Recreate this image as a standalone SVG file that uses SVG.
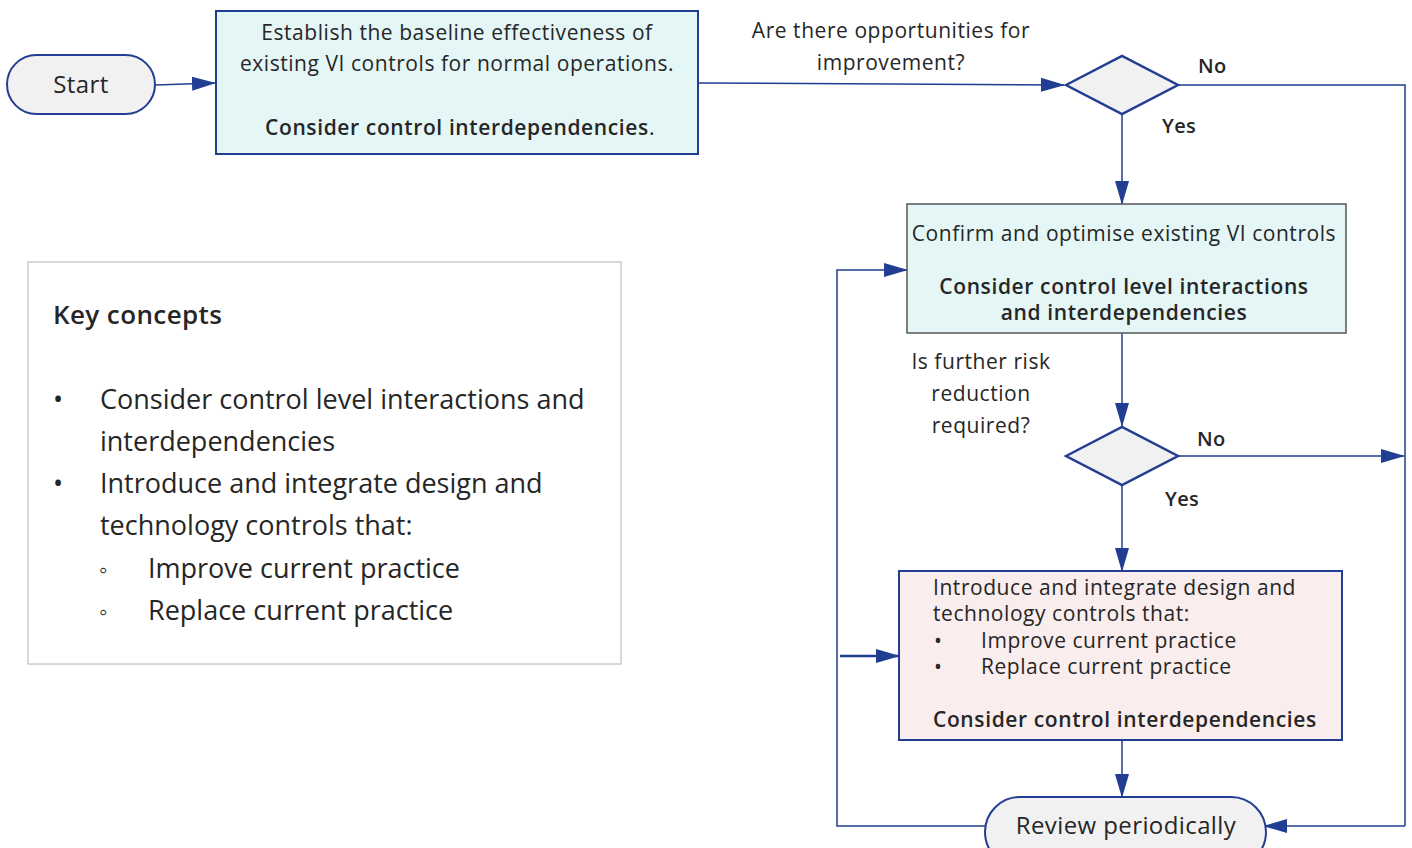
<svg xmlns="http://www.w3.org/2000/svg" width="1412" height="848" viewBox="0 0 1412 848">
<defs>
<marker id="arrL" markerWidth="24" markerHeight="16" refX="23" refY="8" orient="auto" markerUnits="userSpaceOnUse" viewBox="0 0 24 16">
<path d="M0,1 L24,8 L0,15 Z" fill="#213e92"/>
</marker>
</defs>
<style>
text{font-family:"Open Sans","Noto Sans","Liberation Sans",sans-serif;fill:#262626;}
.t20{font-size:21px;letter-spacing:0.55px;}
.b{font-weight:600;letter-spacing:0.62px;}
.c{text-anchor:middle;}
.term{fill:#f1f1f1;stroke:#213e92;stroke-width:2;}
.dia{fill:#f1f1f1;stroke:#213e92;stroke-width:2.5;}
.con{fill:none;stroke:#213e92;stroke-width:1.5;marker-end:url(#arrL);}
.plain{fill:none;stroke:#213e92;stroke-width:1.5;}
.lbl{font-size:20px;font-weight:600;letter-spacing:0.3px;}
.k{font-size:27px;}
</style>
<rect width="1412" height="848" fill="#ffffff"/>

<g id="connectors">
<path class="con" d="M155,85 L215,83"/>
<path class="con" d="M698,83 L1064,85"/>
<path class="plain" d="M1178,85 L1405,85 L1405,826"/>
<path class="con" d="M1405,826 L1264,826"/>
<path class="con" d="M1122,114 L1122,204"/>
<path class="con" d="M1122,333 L1122,426"/>
<path class="con" d="M1178,456 L1404,456"/>
<path class="con" d="M1122,485 L1122,571"/>
<path class="con" d="M1122,740 L1122,797"/>
<path class="con" d="M985,826 L837,826 L837,270 L907,270"/>
<path class="con" style="stroke-width:2.5" d="M840,656 L899,656"/>
</g>

<g id="labels">
<text class="t20 c" x="891" y="38">Are there opportunities for</text>
<text class="t20 c" x="891" y="70">improvement?</text>
<text class="lbl" x="1198" y="73">No</text>
<text class="lbl" x="1162" y="133">Yes</text>
<text class="t20 c" x="981" y="369">Is further risk</text>
<text class="t20 c" x="981" y="401">reduction</text>
<text class="t20 c" x="981" y="433">required?</text>
<text class="lbl" x="1197" y="446">No</text>
<text class="lbl" x="1165" y="506">Yes</text>
</g>

<g id="start">
<rect class="term" x="7" y="55" width="148" height="59" rx="29.5"/>
<text class="c" x="81" y="93" style="font-size:24px;letter-spacing:0.4px">Start</text>
</g>

<g id="baseline">
<rect x="216" y="11" width="482" height="143" fill="#e4f6f6" stroke="#213e92" stroke-width="2"/>
<text class="t20 c" x="457" y="40">Establish the baseline effectiveness of</text>
<text class="t20 c" x="457" y="71">existing VI controls for normal operations.</text>
<text class="t20 c" x="460" y="135"><tspan class="b">Consider control interdependencies</tspan>.</text>
</g>

<g id="decision1">
<polygon class="dia" points="1066,85 1122,56 1178,85 1122,114"/>
</g>

<g id="confirm">
<rect x="907" y="204" width="439" height="129" fill="#e4f6f6" stroke="#555555" stroke-width="1.5"/>
<text class="t20 c" x="1124" y="241">Confirm and optimise existing VI controls</text>
<text class="t20 c b" x="1124" y="294">Consider control level interactions</text>
<text class="t20 c b" x="1124" y="320">and interdependencies</text>
</g>

<g id="decision2">
<polygon class="dia" points="1066,456 1122,427 1178,456 1122,485"/>
</g>

<g id="introduce">
<rect x="899" y="571" width="443" height="169" fill="#f9eded" stroke="#213e92" stroke-width="2"/>
<text class="t20" x="933" y="595">Introduce and integrate design and</text>
<text class="t20" x="933" y="621">technology controls that:</text>
<text class="t20" x="934" y="648">•</text>
<text class="t20" x="981" y="648">Improve current practice</text>
<text class="t20" x="934" y="674">•</text>
<text class="t20" x="981" y="674">Replace current practice</text>
<text class="t20 b" x="933" y="727">Consider control interdependencies</text>
</g>

<g id="review">
<rect class="term" x="985" y="797" width="281" height="70" rx="35"/>
<text class="c" x="1126" y="834" style="font-size:24px;letter-spacing:0.4px">Review periodically</text>
</g>

<g id="key-concepts">
<rect x="28" y="262" width="593" height="402" fill="#ffffff" stroke="#cccccc" stroke-width="1.5"/>
<text class="b" x="53" y="324" style="font-size:26px;letter-spacing:0.4px">Key concepts</text>
<text class="k" x="53" y="409">•</text>
<text class="k" x="100" y="409">Consider control level interactions and</text>
<text class="k" x="100" y="451">interdependencies</text>
<text class="k" x="53" y="493">•</text>
<text class="k" x="100" y="493">Introduce and integrate design and</text>
<text class="k" x="100" y="535">technology controls that:</text>
<text x="99" y="578" style="font-size:24px">◦</text>
<text class="k" x="148" y="578">Improve current practice</text>
<text x="99" y="620" style="font-size:24px">◦</text>
<text class="k" x="148" y="620">Replace current practice</text>
</g>
</svg>
